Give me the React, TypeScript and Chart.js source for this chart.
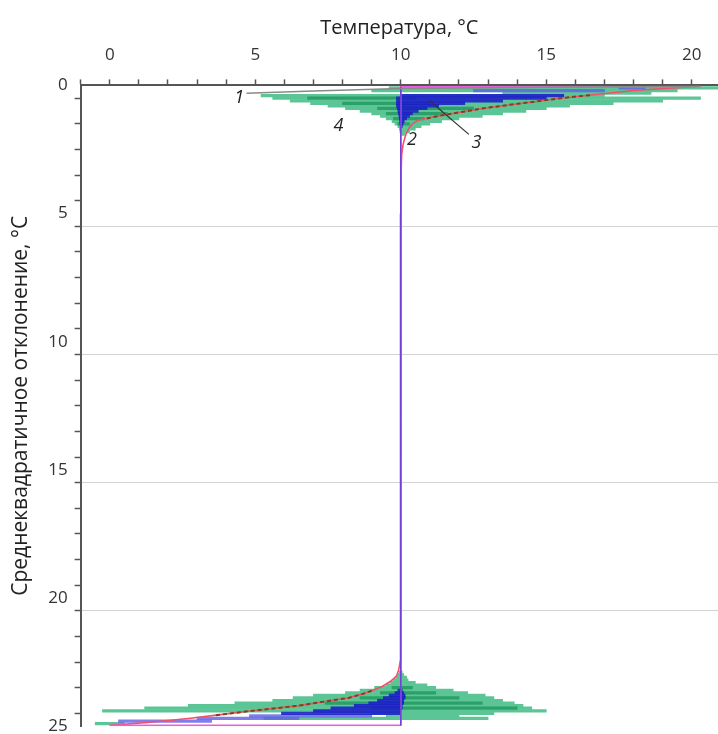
import React, { useEffect, useRef } from 'react';
import { Chart, registerables } from 'chart.js';

Chart.register(...registerables);

// Axis ranges: temperature along the top, standard deviation downward
const tempMin = -1;
const tempMax = 20.9;
const devMin = 0;
const devMax = 25;

// Curve 1: thin grey profile just below the surface
const curve1Temp = [4.7, 7.0, 10.0, 15.0, 20.3];
const curve1Dev = [0.31, 0.22, 0.12, 0.07, 0.03];

// Curve 2: red profile
const curve2Temp = [20.3, 18.0, 15.5, 12.8, 11.4, 11.0, 10.6, 10.4, 10.28, 10.2, 10.15, 10.08, 10.03, 10.01, 10.0,
  10.0, 9.98, 9.93, 9.85, 9.65, 9.36, 9.05, 8.67, 8.2, 7.6, 6.5, 4.9, 3.8, 2.7, 1.4, 0.0];
const curve2Dev = [0.03, 0.2, 0.5, 0.9, 1.17, 1.25, 1.36, 1.5, 1.67, 1.85, 2.0, 2.3, 2.7, 3.5, 5.0,
  22.0, 22.4, 22.8, 23.05, 23.25, 23.45, 23.6, 23.75, 23.9, 24.0, 24.2, 24.4, 24.55, 24.7, 24.85, 24.97];

// Dashed segments laid over curve 2 (upper and lower parts)
const dashedTopTemp = [16.5, 15.5, 14.0, 12.8, 11.4, 10.9];
const dashedTopDev = [0.38, 0.5, 0.72, 0.9, 1.17, 1.29];
const dashedBottomTemp = [9.0, 8.67, 8.2, 7.6, 6.5, 4.9, 3.6];
const dashedBottomDev = [23.62, 23.75, 23.9, 24.0, 24.2, 24.4, 24.58];

// Initial profile: 20 °C at the top, 10 °C in the column, 0 °C at the bottom
const initialTemp = [20.3, 10, 10, 0];
const initialDev = [0.05, 0.05, 24.97, 24.97];
const axisTemp = [10, 10];
const axisDev = [0.05, 24.97];

// Curve 4: ensemble spread (light rows)
const lightGreenDev = [0.1, 0.2, 0.3, 0.4, 0.5, 0.6, 0.7, 0.8, 0.9, 1.0, 1.1, 1.2, 1.3, 1.4, 1.5, 1.6, 1.7, 1.8, 1.9,
  22.9, 23.0, 23.1, 23.2, 23.3, 23.4, 23.5, 23.6, 23.7, 23.8, 23.9, 24.0, 24.1, 24.2, 24.3, 24.4, 24.5, 24.6, 24.7, 24.9];
const lightGreenFrom = [9.6, 9.0, 13.5, 5.2, 5.6, 6.2, 6.9, 7.5, 8.1, 8.6, 9.0, 9.3, 9.5, 9.7, 9.8, 9.9, 9.95, 9.97, 9.99,
  9.95, 9.9, 9.85, 9.75, 9.65, 9.5, 9.1, 8.6, 8.1, 7.0, 6.3, 5.6, 4.3, 2.7, 1.2, -0.25, 9.0, 9.5, 5.3, -0.5];
const lightGreenTo = [20.9, 19.5, 18.6, 17.0, 20.3, 19.0, 17.3, 15.8, 15.0, 14.3, 13.5, 12.8, 12.0, 11.4, 11.0, 10.7, 10.5, 10.3, 10.15,
  10.05, 10.1, 10.2, 10.25, 10.5, 10.9, 11.2, 11.8, 12.3, 12.9, 13.2, 13.5, 13.9, 14.2, 14.5, 15.0, 13.2, 12.0, 13.0, 0.5];

// Curve 4: denser rows of the spread
const darkGreenDev = [0.5, 0.7, 0.9, 1.1, 1.3, 1.5, 23.5, 23.7, 23.9, 24.1, 24.3];
const darkGreenFrom = [6.8, 8.0, 9.2, 9.5, 9.75, 9.9, 9.7, 9.3, 8.6, 7.4, 9.0];
const darkGreenTo = [10.5, 11.0, 12.5, 11.6, 10.8, 10.3, 10.4, 11.2, 12.0, 12.8, 14.0];

// Curve 3: blue spread (dense rows)
const blueDev = [0.4, 0.5, 0.6, 0.7, 0.8, 0.9, 1.0, 1.1, 1.2, 1.3, 1.4, 1.5, 1.6,
  23.6, 23.7, 23.8, 23.9, 24.0, 24.1, 24.2, 24.3, 24.4, 24.5];
const blueFrom = [10.0, 9.85, 9.85, 9.85, 9.85, 9.88, 9.9, 9.92, 9.94, 9.95, 9.96, 9.97, 9.98,
  9.9, 9.8, 9.6, 9.4, 9.2, 8.9, 8.4, 7.6, 7.0, 5.9];
const blueTo = [15.6, 15.0, 13.5, 12.2, 11.3, 10.9, 10.6, 10.4, 10.3, 10.2, 10.12, 10.08, 10.05,
  10.05, 10.1, 10.15, 10.15, 10.1, 10.1, 10.05, 10.05, 10.0, 10.0];

// Curve 3: blue spread (sparse rows)
const paleBlueDev = [0.1, 0.2, 24.6, 24.7, 24.8];
const paleBlueFrom = [17.5, 12.5, 4.8, 3.0, 0.3];
const paleBlueTo = [18.4, 17.0, 9.0, 6.5, 3.5];

// Curve numbers and the leader line for curve 3
const labelText = ['1', '2', '3', '4'];
const labelTemp = [4.45, 10.38, 12.6, 7.86];
const labelDev = [0.47, 2.14, 2.26, 1.56];
const leaderTemp = [10.97, 12.34];
const leaderDev = [0.58, 1.91];

const FONT = '"Open Sans", "Noto Sans", sans-serif';

const pts = (xs: number[], ys: number[]) => xs.map((x, i) => ({ x, y: ys[i] }));
const rows = (dev: number[], from: number[], to: number[]) =>
  dev.map((y, i) => ({ y, x: [from[i], to[i]] }));

const lineStyle = { pointRadius: 0, pointHoverRadius: 0, fill: false, tension: 0 };
const rowStyle = {
  type: 'bar' as const,
  indexAxis: 'y' as const,
  grouped: false,
  categoryPercentage: 1,
  barPercentage: 1,
  borderWidth: 0,
};

const curveLabels = {
  id: 'curveLabels',
  afterDatasetsDraw(chart: any) {
    const { ctx, scales } = chart;
    ctx.save();
    ctx.font = `italic 18px ${FONT}`;
    ctx.fillStyle = '#222';
    ctx.textAlign = 'center';
    ctx.textBaseline = 'middle';
    labelText.forEach((t, i) => {
      ctx.fillText(t, scales.x.getPixelForValue(labelTemp[i]), scales.y.getPixelForValue(labelDev[i]));
    });
    ctx.restore();
  },
};

export default function App() {
  const ref = useRef<HTMLCanvasElement>(null);

  useEffect(() => {
    if (!ref.current) return;
    const chart = new Chart(ref.current, {
      type: 'line',
      data: {
        datasets: [
          { ...rowStyle, data: rows(lightGreenDev, lightGreenFrom, lightGreenTo) as any, backgroundColor: '#5cc596', order: 10 },
          { ...rowStyle, data: rows(darkGreenDev, darkGreenFrom, darkGreenTo) as any, backgroundColor: 'rgba(10,135,75,0.6)', order: 9 },
          { ...rowStyle, data: rows(paleBlueDev, paleBlueFrom, paleBlueTo) as any, backgroundColor: 'rgba(95,95,230,0.8)', order: 8 },
          { ...rowStyle, data: rows(blueDev, blueFrom, blueTo) as any, backgroundColor: 'rgba(28,28,200,0.88)', order: 7 },
          { ...lineStyle, type: 'line', data: pts(curve2Temp, curve2Dev), borderColor: '#f2506a', borderWidth: 1.6, order: 5 },
          { ...lineStyle, type: 'line', data: pts(dashedTopTemp, dashedTopDev), borderColor: '#7a4418', borderWidth: 2, borderDash: [4, 3], order: 4 },
          { ...lineStyle, type: 'line', data: pts(dashedBottomTemp, dashedBottomDev), borderColor: '#7a4418', borderWidth: 2, borderDash: [4, 3], order: 4 },
          { ...lineStyle, type: 'line', data: pts(initialTemp, initialDev), borderColor: '#e860d8', borderWidth: 1.6, order: 3 },
          { ...lineStyle, type: 'line', data: pts(axisTemp, axisDev), borderColor: '#7040d8', borderWidth: 1.6, order: 2 },
          { ...lineStyle, type: 'line', data: pts(curve1Temp, curve1Dev), borderColor: '#8a8a8a', borderWidth: 1.5, order: 1 },
          { ...lineStyle, type: 'line', data: pts(leaderTemp, leaderDev), borderColor: '#333', borderWidth: 1.2, order: 1 },
        ] as any,
      },
      options: {
        animation: false,
        responsive: true,
        maintainAspectRatio: false,
        layout: { padding: { left: 4, top: 8, right: 0, bottom: 0 } },
        plugins: { legend: { display: false }, tooltip: { enabled: false } },
        scales: {
          x: {
            type: 'linear',
            position: 'top',
            min: tempMin,
            max: tempMax,
            offset: false,
            ticks: {
              stepSize: 1,
              autoSkip: false,
              includeBounds: false,
              maxRotation: 0,
              padding: 14,
              color: '#333',
              font: { family: FONT, size: 17 },
              callback: (v: any) => (v >= 0 && v % 5 === 0 ? String(v) : ''),
            },
            grid: { drawOnChartArea: false, tickLength: 6, tickColor: '#555', tickWidth: 1.5, offset: false },
            border: { color: '#555', width: 2 },
            title: {
              display: true,
              text: 'Температура, °C',
              color: '#222',
              font: { family: FONT, size: 20 },
              padding: { top: 8, bottom: -9 },
            },
          },
          y: {
            type: 'linear',
            reverse: true,
            min: devMin,
            max: devMax,
            offset: false,
            ticks: {
              stepSize: 1,
              autoSkip: false,
              padding: 7,
              color: '#333',
              font: { family: FONT, size: 17, lineHeight: 0.1 },
              callback: (v: any) => (v % 5 === 0 ? String(v) : ''),
            },
            grid: {
              color: (c: any) => (c.tick && c.tick.value % 5 === 0 && c.tick.value !== 0 ? '#d2d2d2' : 'rgba(0,0,0,0)'),
              lineWidth: 1,
              tickLength: 6,
              tickColor: '#555',
              tickWidth: 1.5,
            },
            border: { color: '#555', width: 2 },
            title: {
              display: true,
              text: 'Среднеквадратичное отклонение, °C',
              color: '#222',
              font: { family: FONT, size: 21 },
              padding: { top: 4, bottom: 8 },
            },
          },
        },
      } as any,
      plugins: [curveLabels],
    });
    return () => chart.destroy();
  }, []);

  return (
    <div style={{ position: 'absolute', left: 0, top: 0, width: 718, height: 734, background: '#fff' }}>
      <canvas ref={ref} />
    </div>
  );
}
